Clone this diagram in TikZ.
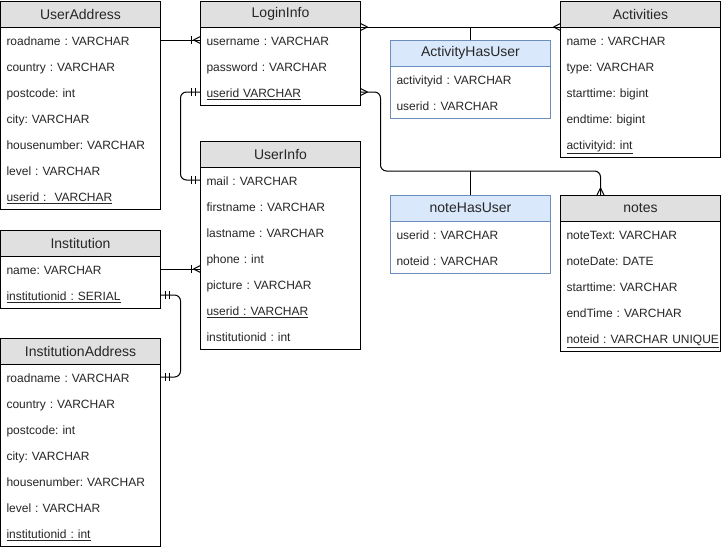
\documentclass[tikz,border=0pt]{standalone}
\usepackage{fontspec}
\setmainfont{Liberation Sans}
\frenchspacing
\usetikzlibrary{positioning,decorations.markings}
\definecolor{headgray}{HTML}{E0E0E0}
\definecolor{linkfill}{HTML}{DAE8FC}
\definecolor{linkdraw}{HTML}{6C8EBF}
\newcommand{\tblrows}[1]{\begin{tabular}{@{}l@{}}#1\end{tabular}}

\begin{document}
\begin{tikzpicture}[x=1pt, y=-1pt, line width=1pt,
    tblhead/.style={draw, fill=headgray, anchor=north west, minimum width=160pt, minimum height=26pt, inner sep=0pt, outer sep=0pt, text=black!85, font=\fontsize{14}{16}\selectfont},
    tblbody/.style={draw, fill=white, text width=148pt, inner xsep=6pt, inner ysep=0pt, outer sep=0pt, text=black!85, font=\fontsize{12}{26}\selectfont},
    linkhead/.style={tblhead, draw=linkdraw, fill=linkfill},
    linkbody/.style={tblbody, draw=linkdraw},
    crowstart/.style={postaction={decorate, decoration={markings, mark=at position 7pt with {\draw (0,0) -- (-7pt,3.5pt) (0,0) -- (-7pt,-3.5pt);}}}},
    crowend/.style={postaction={decorate, decoration={markings, mark=at position -7pt with {\draw (0,0) -- (7pt,3.5pt) (0,0) -- (7pt,-3.5pt);}}}},
    onemanyend/.style={crowend, postaction={decorate, decoration={markings, mark=at position -9pt with {\draw (0,-4pt) -- (0,4pt);}}}},
    mandboth/.style={postaction={decorate, decoration={markings,
        mark=at position 5pt with {\draw (0,-4pt) -- (0,4pt);},
        mark=at position 9pt with {\draw (0,-4pt) -- (0,4pt);},
        mark=at position -9pt with {\draw (0,-4pt) -- (0,4pt);},
        mark=at position -5pt with {\draw (0,-4pt) -- (0,4pt);}}}}]
    \useasboundingbox (0,0) rectangle (722,550);
    \node[tblhead] (uah) at (0.5,1) {UserAddress};
    \node[tblbody, below=0pt of uah] (uab) {\tblrows{roadname : VARCHAR\\country : VARCHAR\\postcode: int\\city: VARCHAR\\housenumber: VARCHAR\\level : VARCHAR\\\underline{userid :~ VARCHAR}}};
    \node[tblhead] (lih) at (200.5,1) {LoginInfo};
    \node[tblbody, below=0pt of lih] (lib) {\tblrows{username : VARCHAR\\password : VARCHAR\\\underline{userid VARCHAR}}};
    \node[tblhead] (uih) at (200.5,141) {UserInfo};
    \node[tblbody, below=0pt of uih] (uib) {\tblrows{mail : VARCHAR\\firstname : VARCHAR\\lastname : VARCHAR\\phone : int\\picture : VARCHAR\\\underline{userid : VARCHAR}\\institutionid : int}};
    \node[tblhead] (ach) at (560.5,1) {Activities};
    \node[tblbody, below=0pt of ach] (acb) {\tblrows{name : VARCHAR\\type: VARCHAR\\starttime: bigint\\endtime: bigint\\\underline{activityid: int}}};
    \node[linkhead] (ahuh) at (390.5,40) {ActivityHasUser};
    \node[linkbody, below=0pt of ahuh] (ahub) {\tblrows{activityid : VARCHAR\\userid : VARCHAR}};
    \node[linkhead] (nhuh) at (390.5,195) {noteHasUser};
    \node[linkbody, below=0pt of nhuh] (nhub) {\tblrows{userid : VARCHAR\\noteid : VARCHAR}};
    \node[tblhead] (nth) at (560.5,195) {notes};
    \node[tblbody, below=0pt of nth] (ntb) {\tblrows{noteText: VARCHAR\\noteDate: DATE\\starttime: VARCHAR\\endTime : VARCHAR\\\underline{noteid : VARCHAR UNIQUE}}};
    \node[tblhead] (inh) at (0.5,230) {Institution};
    \node[tblbody, below=0pt of inh] (inb) {\tblrows{name: VARCHAR\\\underline{institutionid : SERIAL}}};
    \node[tblhead] (iah) at (0.5,338) {InstitutionAddress};
    \node[tblbody, below=0pt of iah] (iab) {\tblrows{roadname : VARCHAR\\country : VARCHAR\\postcode: int\\city: VARCHAR\\housenumber: VARCHAR\\level : VARCHAR\\\underline{institutionid : int}}};
    \draw[onemanyend] ([yshift=-13pt]uab.north east) -- ([yshift=-13pt]lib.north west);
    \draw[rounded corners=6pt, mandboth] ([yshift=-65pt]lib.north west) -- ++(-20pt,0) |- ([yshift=-13pt]uib.north west);
    \draw[crowstart, crowend] (lih.south east) -- (ach.south west);
    \draw (ahuh.north) -- (ahuh.north |- lih.south);
    \draw[rounded corners=6pt, crowstart, crowend] ([yshift=-65pt]lib.north east) -- ++(20pt,0) |- ([xshift=40pt,yshift=24pt]nth.north west) -- ([xshift=40pt]nth.north west);
    \draw (nhuh.north) -- ++(0,24pt);
    \draw[onemanyend] ([yshift=-13pt]inb.north east) -- ([yshift=-13pt]inb.north east -| uib.west);
    \draw[rounded corners=6pt, mandboth] ([yshift=-39pt]inb.north east) -- ++(20pt,0) |- ([yshift=-13pt]iab.north east);
\end{tikzpicture}
\end{document}
